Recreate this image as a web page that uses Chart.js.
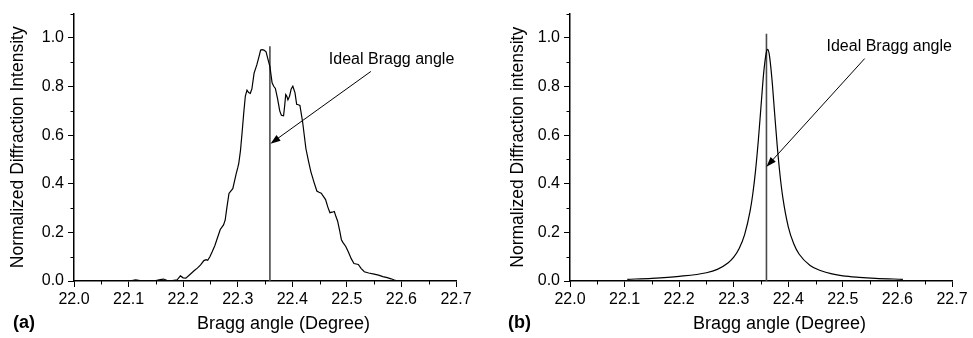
<!DOCTYPE html>
<html>
<head>
<meta charset="utf-8">
<script src="https://cdn.jsdelivr.net/npm/chart.js@4.4.1/dist/chart.umd.min.js"></script>
<style>
    html, body { margin: 0; padding: 0; background: #fff; }
    .panel { position: absolute; top: 0; height: 338px; }
    #panelA { left: 0; width: 486px; }
    #panelB { left: 486px; width: 487px; }
</style>
</head>
<body>
<div class="panel" id="panelA"><canvas id="chartA" width="486" height="338"></canvas></div>
<div class="panel" id="panelB"><canvas id="chartB" width="487" height="338"></canvas></div>
<script>
// (a) measured profile
const angleA = [22.097, 22.106, 22.113, 22.121, 22.135, 22.150, 22.158, 22.164, 22.170, 22.180,
    22.189, 22.195, 22.200, 22.205, 22.213, 22.220, 22.226, 22.232, 22.238, 22.242,
    22.245, 22.249, 22.253, 22.258, 22.262, 22.268, 22.274, 22.277, 22.280, 22.284,
    22.288, 22.291, 22.294, 22.297, 22.300, 22.302, 22.305, 22.308, 22.311, 22.314,
    22.317, 22.320, 22.323, 22.326, 22.330, 22.335, 22.339, 22.342, 22.345, 22.348,
    22.352, 22.355, 22.359, 22.363, 22.366, 22.369, 22.373, 22.377, 22.380, 22.384,
    22.386, 22.388, 22.390, 22.392, 22.395, 22.398, 22.401, 22.405, 22.408, 22.411,
    22.414, 22.419, 22.425, 22.430, 22.434, 22.440, 22.445, 22.449, 22.453, 22.457,
    22.461, 22.465, 22.469, 22.473, 22.477, 22.480, 22.483, 22.487, 22.490, 22.493,
    22.498, 22.503, 22.508, 22.513, 22.517, 22.521, 22.526, 22.532, 22.540, 22.550,
    22.558, 22.566, 22.574, 22.581, 22.587, 22.592];
const intensityA = [0.000, 0.002, 0.005, 0.002, 0.000, 0.002, 0.006, 0.008, 0.003, 0.002,
    0.005, 0.021, 0.013, 0.012, 0.028, 0.042, 0.053, 0.066, 0.084, 0.088,
    0.085, 0.100, 0.119, 0.145, 0.172, 0.212, 0.231, 0.250, 0.300, 0.360,
    0.372, 0.380, 0.410, 0.440, 0.465, 0.485, 0.535, 0.610, 0.690, 0.761,
    0.785, 0.775, 0.772, 0.790, 0.855, 0.889, 0.923, 0.950, 0.952, 0.950,
    0.943, 0.916, 0.882, 0.815, 0.801, 0.792, 0.750, 0.700, 0.682, 0.680,
    0.720, 0.767, 0.760, 0.745, 0.760, 0.790, 0.801, 0.774, 0.727, 0.725,
    0.722, 0.653, 0.544, 0.490, 0.450, 0.405, 0.370, 0.365, 0.361, 0.348,
    0.335, 0.305, 0.281, 0.283, 0.286, 0.265, 0.247, 0.205, 0.170, 0.158,
    0.142, 0.118, 0.092, 0.072, 0.070, 0.068, 0.052, 0.038, 0.033, 0.028,
    0.024, 0.018, 0.014, 0.009, 0.004, 0.001];

// (b) simulated profile
const angleB = [22.105, 22.15, 22.2, 22.25, 22.27, 22.29, 22.30, 22.31, 22.32, 22.33,
    22.335, 22.34, 22.345, 22.35, 22.355, 22.36, 22.362, 22.365, 22.37, 22.375,
    22.38, 22.385, 22.39, 22.40, 22.41, 22.42, 22.44, 22.46, 22.48, 22.50,
    22.53, 22.56, 22.61];
const intensityB = [0.007, 0.011, 0.019, 0.034, 0.048, 0.075, 0.098, 0.134, 0.191, 0.287,
    0.359, 0.454, 0.576, 0.718, 0.858, 0.944, 0.953, 0.934, 0.832, 0.689,
    0.549, 0.433, 0.343, 0.223, 0.153, 0.110, 0.064, 0.042, 0.029, 0.021,
    0.015, 0.011, 0.007];

// ideal Bragg angle marker, one entry per panel
const idealAngle = [22.359, 22.360];
const idealTop = [0.966, 1.017];
const arrowTail = [[22.544, 0.862], [22.540, 0.915]];
const arrowTip = [[22.360, 0.565], [22.360, 0.470]];
const noteAt = [[22.467, 0.912], [22.470, 0.963]];

const FONT = "'Liberation Sans', Arial, sans-serif";

const decorations = {
    id: 'decorations',
    afterDraw(chart, args, opts) {
        const { ctx, chartArea, scales: { x, y } } = chart;
        ctx.save();

        // minor ticks
        ctx.strokeStyle = '#000';
        ctx.lineWidth = 1;
        x.ticks.forEach(t => {
            if (t.label) return;
            const px = Math.round(x.getPixelForValue(t.value)) + 0.5;
            ctx.beginPath();
            ctx.moveTo(px, chartArea.bottom);
            ctx.lineTo(px, chartArea.bottom + 3.5);
            ctx.stroke();
        });
        y.ticks.forEach(t => {
            if (t.label) return;
            const py = Math.round(y.getPixelForValue(t.value)) + 0.5;
            ctx.beginPath();
            ctx.moveTo(chartArea.left, py);
            ctx.lineTo(chartArea.left - 3.5, py);
            ctx.stroke();
        });

        // arrow
        const x0 = x.getPixelForValue(opts.tail[0]), y0 = y.getPixelForValue(opts.tail[1]);
        const x1 = x.getPixelForValue(opts.tip[0]), y1 = y.getPixelForValue(opts.tip[1]);
        const a = Math.atan2(y1 - y0, x1 - x0);
        const cos = Math.cos(a), sin = Math.sin(a);
        const len = 10, half = 3.5;
        ctx.beginPath();
        ctx.moveTo(x0, y0);
        ctx.lineTo(x1 - cos * 6, y1 - sin * 6);
        ctx.stroke();
        ctx.fillStyle = '#000';
        ctx.beginPath();
        ctx.moveTo(x1, y1);
        ctx.lineTo(x1 - len * cos + half * sin, y1 - len * sin - half * cos);
        ctx.lineTo(x1 - len * cos - half * sin, y1 - len * sin + half * cos);
        ctx.closePath();
        ctx.fill();

        // note text
        ctx.textBaseline = 'middle';
        ctx.textAlign = 'left';
        ctx.font = '16px ' + FONT;
        ctx.fillText('Ideal Bragg angle', x.getPixelForValue(opts.note[0]), y.getPixelForValue(opts.note[1]));

        // x axis title
        ctx.textAlign = 'center';
        ctx.font = '18px ' + FONT;
        ctx.fillText('Bragg angle (Degree)', (chartArea.left + chartArea.right) / 2 + 18.5, 324);

        // panel letter
        ctx.textAlign = 'left';
        ctx.font = 'bold 18px ' + FONT;
        ctx.fillText(opts.panel, opts.panelX, 323);

        ctx.restore();
    }
};

function makeChart(id, i, angles, values, yTitle, yWidth, rightPad, titlePad, panel, panelX) {
    const curve = angles.map((v, k) => ({ x: v, y: values[k] }));
    const marker = [{ x: idealAngle[i], y: 0 }, { x: idealAngle[i], y: idealTop[i] }];
    return new Chart(document.getElementById(id), {
        type: 'line',
        data: {
            datasets: [{
                data: curve,
                borderColor: '#000',
                borderWidth: 1.2,
                pointRadius: 0,
                fill: false,
                cubicInterpolationMode: i === 1 ? 'monotone' : 'default',
                tension: 0
            }, {
                data: marker,
                borderColor: '#4a4a4a',
                borderWidth: 1.6,
                pointRadius: 0,
                fill: false
            }]
        },
        options: {
            responsive: false,
            animation: false,
            events: [],
            layout: { padding: { top: 10, right: rightPad, left: 0, bottom: 0 } },
            plugins: {
                legend: { display: false },
                tooltip: { enabled: false },
                decorations: {
                    tail: arrowTail[i], tip: arrowTip[i], note: noteAt[i],
                    panel: panel, panelX: panelX
                }
            },
            scales: {
                x: {
                    type: 'linear',
                    min: 22.0,
                    max: 22.7,
                    afterFit: s => { s.height = 338 - 281; },
                    border: { display: true, color: '#000', width: 1.5 },
                    grid: {
                        drawOnChartArea: false,
                        tickLength: 6,
                        tickColor: c => (c.tick && c.tick.label) ? '#000' : 'rgba(0,0,0,0)'
                    },
                    ticks: {
                        stepSize: 0.05,
                        autoSkip: false,
                        maxRotation: 0,
                        padding: 3,
                        color: '#000',
                        font: { family: FONT, size: 16 },
                        callback: v => (Math.round(v * 100) % 10 === 0 ? v.toFixed(1) : '')
                    }
                },
                y: {
                    min: 0,
                    max: 1.1,
                    afterFit: s => { s.width = yWidth; },
                    border: { display: true, color: '#000', width: 1.5 },
                    grid: {
                        drawOnChartArea: false,
                        tickLength: 6,
                        tickColor: c => (c.tick && c.tick.label) ? '#000' : 'rgba(0,0,0,0)'
                    },
                    ticks: {
                        stepSize: 0.1,
                        autoSkip: false,
                        padding: 4,
                        color: '#000',
                        font: { family: FONT, size: 16 },
                        callback: v => {
                            const k = Math.round(v * 10);
                            return (k % 2 === 0 && k <= 10) ? v.toFixed(1) : '';
                        }
                    },
                    title: {
                        display: true,
                        text: yTitle,
                        color: '#000',
                        font: { family: FONT, size: 17.5 },
                        padding: { top: titlePad, bottom: 0 }
                    }
                }
            }
        },
        plugins: [decorations]
    });
}

makeChart('chartA', 0, angleA, intensityA, 'Normalized Diffraction Intensity', 74, 30, 8, '(a)', 13);
makeChart('chartB', 1, angleB, intensityB, 'Normalized Diffraction intensity', 84, 21, 22, '(b)', 22);
</script>
</body>
</html>
